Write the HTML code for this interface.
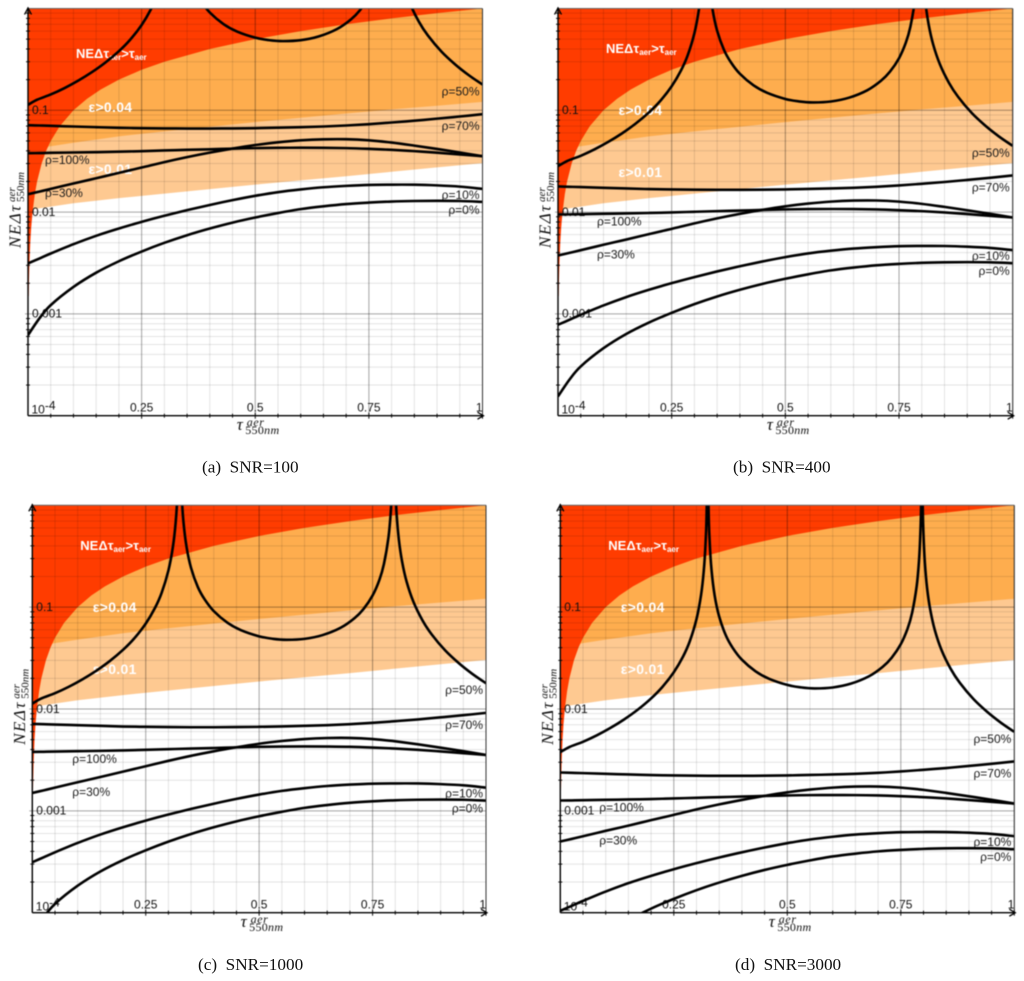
<!DOCTYPE html>
<html lang="en">
<head>
<meta charset="utf-8">
<title>Aerosol optical depth noise for four SNR values</title>
<style>
  html, body { margin: 0; padding: 0; background: #fff; }
  body { width: 1024px; height: 981px; overflow: hidden; }
  svg { display: block; }
  #charts { filter: blur(0.4px); }
  .tick { font: 12px "Liberation Sans", sans-serif; fill: #111; }
  .rho { font: 12px "Liberation Sans", sans-serif; fill: #1a1a1a; }
  .note { font: bold 14px "Liberation Sans", sans-serif; fill: #fff; letter-spacing: .3px; }
  .note-small { font: bold 13px "Liberation Sans", sans-serif; fill: #fff; }
  .math { font-family: "Liberation Serif", serif; font-style: italic; fill: #111; }
  .caption { font: 17.2px "Liberation Serif", serif; fill: #111; white-space: pre; }
</style>
</head>
<body>
<svg id="figure" width="1024" height="981" viewBox="0 0 1024 981" xmlns="http://www.w3.org/2000/svg">
  <rect width="1024" height="981" fill="#fff"/>
  <g id="charts"></g>
  <text class="caption" x="202" y="472.5">(a)  SNR=100</text>
  <text class="caption" x="733" y="472.5">(b)  SNR=400</text>
  <text class="caption" x="198" y="970">(c)  SNR=1000</text>
  <text class="caption" x="735" y="970">(d)  SNR=3000</text>
</svg>
<script>
// ---------- data ----------
const snrValues = [100, 400, 1000, 3000];
const panelLetters = ['a', 'b', 'c', 'd'];

// Curves are given as noise at the reference SNR (panel a); other panels scale by SNR.
const referenceSnr = 100;
const rhoTau = [0, .025, .05, .1, .15, .2, .25, .3, .35, .4, .45, .5, .55, .6, .65, .7, .75, .8, .85, .9, .95, 1];
const rho0 = [6.18e-4, 9.02e-4, 1.22e-3, 1.84e-3, 2.54e-3, 3.29e-3, 4.10e-3, 4.99e-3, 5.93e-3, 6.90e-3, 7.89e-3, 8.85e-3, 9.79e-3, 1.07e-2, 1.14e-2, 1.20e-2, 1.24e-2, 1.27e-2, 1.285e-2, 1.29e-2, 1.285e-2, 1.26e-2];
const rho10 = [3.13e-3, 3.50e-3, 3.92e-3, 4.84e-3, 5.85e-3, 6.90e-3, 8.02e-3, 9.20e-3, 1.045e-2, 1.175e-2, 1.31e-2, 1.445e-2, 1.57e-2, 1.67e-2, 1.754e-2, 1.81e-2, 1.85e-2, 1.86e-2, 1.858e-2, 1.83e-2, 1.78e-2, 1.69e-2];
const rho30 = [1.50e-2, 1.59e-2, 1.69e-2, 1.91e-2, 2.15e-2, 2.43e-2, 2.74e-2, 3.10e-2, 3.47e-2, 3.84e-2, 4.21e-2, 4.56e-2, 4.85e-2, 5.07e-2, 5.19e-2, 5.20e-2, 5.07e-2, 4.82e-2, 4.50e-2, 4.17e-2, 3.85e-2, 3.54e-2];
const rho70 = [7.14e-2, 7.09e-2, 7.04e-2, 6.93e-2, 6.83e-2, 6.73e-2, 6.68e-2, 6.64e-2, 6.62e-2, 6.62e-2, 6.64e-2, 6.68e-2, 6.75e-2, 6.83e-2, 6.93e-2, 7.09e-2, 7.31e-2, 7.59e-2, 7.90e-2, 8.28e-2, 8.69e-2, 9.16e-2];
const rho100 = [3.79e-2, 3.80e-2, 3.82e-2, 3.85e-2, 3.88e-2, 3.92e-2, 3.97e-2, 4.03e-2, 4.09e-2, 4.14e-2, 4.20e-2, 4.25e-2, 4.28e-2, 4.29e-2, 4.28e-2, 4.25e-2, 4.18e-2, 4.09e-2, 3.97e-2, 3.83e-2, 3.68e-2, 3.54e-2];

// rho = 50% has two sharp resonances and so has its own sample positions.
const rho50Tau = [0, .02, .05, .08, .11, .14, .17, .2, .225, .25, .27, .285, .3, .31, .316, .32, .3225, .3245, .3265, .329, .333, .34, .35, .365, .38, .4, .43, .46, .5, .53, .56, .6, .64, .68, .71, .73, .75, .765, .775, .785, .79, .793, .795, .7965, .798, .8, .803, .808, .815, .825, .84, .86, .88, .91, .94, .97, 1];
const rho50 = [.113, .127, .143, .165, .195, .236, .294, .381, .495, .689, .975, 1.38, 2.29, 3.94, 6.8, 12.9, 29.2, 300, 29.5, 13.2, 7.02, 3.9, 2.42, 1.57, 1.19, .914, .704, .594, .517, .489, .478, .488, .532, .629, .778, .958, 1.30, 1.85, 2.65, 4.83, 8.45, 15.6, 36, 300, 36, 15.4, 8.2, 4.58, 2.81, 1.78, 1.13, .742, .542, .376, .282, .221, .179];

// Shaded regions (independent of SNR)
const bandTau = [0, .1, .2, .3, .4, .5, .6, .7, .8, .9, 1];
const epsilon01Edge = [.0105, .0122, .0137, .0152, .0168, .0186, .0205, .0225, .0249, .0275, .0303];
const epsilon04Edge = [.041, .048, .0555, .062, .069, .0765, .0845, .093, .102, .111, .121];
const noiseEdgeTau = [.0015, .002, .003, .005, .007, .01, .015, .02, .03, .04, .05, .07, .1, .13, .16, .2, .25, .3, .4, .5, .6, .7, .8, .9, 1];
const noiseEdgeValue = [.0015, .002, .003, .005, .007, .01, .015, .02, .03, .04, .05, .07, .1, .13, .16, .2, .25, .3, .4, .5, .6, .7, .8, .9, 1];

// Axis ticks
const xMajorTicks = [.25, .5, .75, 1];
const xMajorLabels = ['0.25', '0.5', '0.75', '1'];
const xMinorTicks = [.05, .1, .15, .2, .3, .35, .4, .45, .55, .6, .65, .7, .8, .85, .9, .95];
const yMajorTicks = [.1, .01, .001];
const yMajorLabels = ['0.1', '0.01', '0.001'];
const yDecades = [.1, .01, .001, .0001];
const yMinorFactors = [2, 3, 4, 5, 6, 7, 8, 9];

// ---------- layout (not data) ----------
const panelBoxes = [
  { left: 28, right: 482.5, top: 8.5, bottom: 415.7, rhoInset: 17, noteY: -3, titleY: 5 },
  { left: 558, right: 1012.7, top: 8.5, bottom: 415.7, rhoInset: 39, noteY: 0, titleY: 0 },
  { left: 32.3, right: 486, top: 505.3, bottom: 912.7, rhoInset: 40, noteY: 0, titleY: 0 },
  { left: 560.3, right: 1014.3, top: 505.3, bottom: 912.7, rhoInset: 39, noteY: 0, titleY: 0 }
];

const NS = 'http://www.w3.org/2000/svg';
const root = document.getElementById('charts');

function make(tag, parent, attrs, text) {
  const el = document.createElementNS(NS, tag);
  for (const k in attrs) el.setAttribute(k, attrs[k]);
  if (text !== undefined) el.textContent = text;
  parent.appendChild(el);
  return el;
}

function xScale(box, tau) {
  return box.left + (box.right - box.left) * tau;
}
function yScale(box, value) {
  return box.top + (box.bottom - box.top) * (-Math.log10(value)) / 4;
}

function smoothPath(points) {
  let d = 'M' + points[0][0].toFixed(2) + ' ' + points[0][1].toFixed(2);
  for (let i = 0; i < points.length - 1; i++) {
    const p0 = points[Math.max(0, i - 1)];
    const p1 = points[i];
    const p2 = points[i + 1];
    const p3 = points[Math.min(points.length - 1, i + 2)];
    const c1x = p1[0] + (p2[0] - p0[0]) / 6;
    const c1y = p1[1] + (p2[1] - p0[1]) / 6;
    const c2x = p2[0] - (p3[0] - p1[0]) / 6;
    const c2y = p2[1] - (p3[1] - p1[1]) / 6;
    d += 'C' + c1x.toFixed(2) + ' ' + c1y.toFixed(2) + ' ' + c2x.toFixed(2) + ' ' + c2y.toFixed(2) + ' ' + p2[0].toFixed(2) + ' ' + p2[1].toFixed(2);
  }
  return d;
}

function regionPath(box, taus, values) {
  let d = 'M' + xScale(box, taus[0]) + ' ' + yScale(box, values[0]);
  for (let i = 1; i < taus.length; i++) {
    d += 'L' + xScale(box, taus[i]).toFixed(2) + ' ' + yScale(box, values[i]).toFixed(2);
  }
  d += 'L' + box.right + ' ' + box.top + 'L' + box.left + ' ' + box.top;
  d += 'L' + box.left + ' ' + yScale(box, values[0]) + 'Z';
  return d;
}

const rhoSeries = [
  { key: '0', tau: rhoTau, values: rho0, text: '\u03C1=0%', offset: 8, side: 'right' },
  { key: '10', tau: rhoTau, values: rho10, text: '\u03C1=10%', offset: 6, side: 'right' },
  { key: '30', tau: rhoTau, values: rho30, text: '\u03C1=30%', offset: -1, side: 'left' },
  { key: '50', tau: rho50Tau, values: rho50, text: '\u03C1=50%', offset: 7, side: 'right' },
  { key: '70', tau: rhoTau, values: rho70, text: '\u03C1=70%', offset: 12, side: 'right' },
  { key: '100', tau: rhoTau, values: rho100, text: '\u03C1=100%', offset: 7, side: 'left' }
];

panelBoxes.forEach(function (box, index) {
  const letter = panelLetters[index];
  const scale = referenceSnr / snrValues[index];

  const panel = make('g', root, {});
  
  

  const clip = make('clipPath', panel, { id: 'plot-clip-' + letter });
  
  
  const clipRect = make('rect', clip, { x: box.left, y: box.top, width: box.right - box.left, height: box.bottom - box.top });
  
  

  const regions = make('g', panel, { 'clip-path': 'url(#plot-clip-' + letter + ')' });
  
  

  const light = make('path', regions, { d: regionPath(box, bandTau, epsilon01Edge), fill: '#fec991' });
  
  

  const orange = make('path', regions, { d: regionPath(box, bandTau, epsilon04Edge), fill: '#fead4e' });
  
  

  const red = make('path', regions, { d: regionPath(box, noiseEdgeTau, noiseEdgeValue), fill: '#ff3c00' });
  
  

  const grid = make('g', panel, {});
  
  

  xMinorTicks.forEach(function (tau) {
    const x = xScale(box, tau);
    const line = make('line', grid, { x1: x, x2: x, y1: box.top, y2: box.bottom, stroke: 'rgba(0,0,0,.11)', 'stroke-width': 1 });
    
    
    const tick = make('line', grid, { x1: x, x2: x, y1: box.bottom - 2, y2: box.bottom + 2, stroke: '#111', 'stroke-width': 1 });
    
    
  });

  xMajorTicks.forEach(function (tau, i) {
    const x = xScale(box, tau);
    const line = make('line', grid, { x1: x, x2: x, y1: box.top, y2: box.bottom, stroke: 'rgba(0,0,0,.36)', 'stroke-width': 1 });
    
    
    const tick = make('line', grid, { x1: x, x2: x, y1: box.bottom - 3, y2: box.bottom + 3, stroke: '#111', 'stroke-width': 1 });
    
    
    const label = make('text', panel, {
      x: tau === 1 ? box.right : x,
      y: box.bottom - 4,
      'text-anchor': tau === 1 ? 'end' : 'middle',
      class: 'tick'
    }, xMajorLabels[i]);
    
    
  });

  yDecades.forEach(function (decade) {
    yMinorFactors.forEach(function (factor) {
      const y = yScale(box, decade * factor);
      const line = make('line', grid, { x1: box.left, x2: box.right, y1: y, y2: y, stroke: 'rgba(0,0,0,.11)', 'stroke-width': 1 });
      
      
      const tick = make('line', grid, { x1: box.left - 2, x2: box.left + 2, y1: y, y2: y, stroke: '#111', 'stroke-width': 1 });
      
      
    });
  });

  yMajorTicks.forEach(function (value, i) {
    const y = yScale(box, value);
    const line = make('line', grid, { x1: box.left - 3, x2: box.right, y1: y, y2: y, stroke: 'rgba(0,0,0,.36)', 'stroke-width': 1 });
    
    
    const label = make('text', panel, { x: box.left + 4, y: y + 3.8, class: 'tick' }, yMajorLabels[i]);
    
    
  });

  const bottomLabel = make('text', panel, { x: box.left + 3.5, y: box.bottom - 2, class: 'tick' }, '10');
  
  
  const bottomExp = make('tspan', bottomLabel, { dy: -4 }, '-4');
  
  

  // White region notes
  const title = make('text', panel, { x: box.left + 48, y: box.top + 44.5 + box.titleY, class: 'note-small' }, 'NE\u0394\u03C4');
  
  
  const titleSub1 = make('tspan', title, { dy: 2, 'font-size': 8 }, 'aer');
  
  
  const titleMid = make('tspan', title, { dy: -2 }, '>\u03C4');
  
  
  const titleSub2 = make('tspan', title, { dy: 2, 'font-size': 8 }, 'aer');
  
  

  const note04 = make('text', panel, { x: box.left + 60.5, y: box.top + 106.5 + box.noteY, class: 'note' }, '\u03B5>0.04');
  
  
  const note01 = make('text', panel, { x: box.left + 60.5, y: box.top + 168.5 + box.noteY, class: 'note' }, '\u03B5>0.01');
  
  

  // Rho labels sit next to the ends of their curves
  rhoSeries.forEach(function (series) {
    const last = series.values.length - 1;
    const anchorValue = series.side === 'right' ? series.values[last] : series.values[0];
    const y = yScale(box, anchorValue * scale) + series.offset + 4;
    const label = make('text', panel, {
      x: series.side === 'right' ? box.right - 3 : box.left + box.rhoInset,
      y: y,
      'text-anchor': series.side === 'right' ? 'end' : 'start',
      class: 'rho'
    }, series.text);
    
    
  });

  // Series
  const curves = make('g', panel, { 'clip-path': 'url(#plot-clip-' + letter + ')' });
  
  
  rhoSeries.forEach(function (series) {
    const points = series.tau.map(function (tau, i) {
      return [xScale(box, tau), yScale(box, series.values[i] * scale)];
    });
    const curve = make('path', curves, { d: smoothPath(points), fill: 'none', stroke: '#000', 'stroke-width': 2.6, 'stroke-linejoin': 'round' });
    
    
  });

  // Frame and axes
  const topEdge = make('line', panel, { x1: box.left, x2: box.right, y1: box.top, y2: box.top, stroke: '#666', 'stroke-width': 1 });
  
  
  const rightEdge = make('line', panel, { x1: box.right, x2: box.right, y1: box.top, y2: box.bottom, stroke: '#333', 'stroke-width': 1 });
  
  
  const xAxis = make('line', panel, { x1: box.left, x2: box.right + 1, y1: box.bottom, y2: box.bottom, stroke: '#000', 'stroke-width': 1.4 });
  
  
  const yAxis = make('line', panel, { x1: box.left, x2: box.left, y1: box.top - 1, y2: box.bottom, stroke: '#000', 'stroke-width': 1.4 });
  
  
  const xArrow = make('path', panel, {
    d: 'M' + (box.right - 5) + ' ' + (box.bottom - 3.5) + 'L' + (box.right + 1) + ' ' + box.bottom + 'L' + (box.right - 5) + ' ' + (box.bottom + 3.5),
    fill: 'none', stroke: '#000', 'stroke-width': 1.3
  });
  
  
  const yArrow = make('path', panel, {
    d: 'M' + (box.left - 3.5) + ' ' + (box.top + 6) + 'L' + box.left + ' ' + (box.top - 0.5) + 'L' + (box.left + 3.5) + ' ' + (box.top + 6),
    fill: 'none', stroke: '#000', 'stroke-width': 1.3
  });
  
  

  // X axis title
  const midX = (box.left + box.right) / 2;
  const xTitle = make('g', panel, {});
  
  
  const xTau = make('text', xTitle, { x: midX - 18.5, y: box.bottom + 14.5, class: 'math', 'font-size': 17 }, '\u03C4');
  
  
  const xSup = make('text', xTitle, { x: midX - 8.5, y: box.bottom + 10.5, class: 'math', 'font-size': 12, 'letter-spacing': .6 }, 'aer');
  
  
  const xSub = make('text', xTitle, { x: midX - 10, y: box.bottom + 18.5, class: 'math', 'font-size': 12, 'letter-spacing': .3 });
  
  
  const xSubDigits = make('tspan', xSub, { 'font-style': 'normal' }, '550');
  
  
  const xSubUnit = make('tspan', xSub, {}, 'nm');
  
  

  // Y axis title
  const yBaseX = box.left - 7.5;
  const yBaseY = box.top + 239.5;
  const yTitle = make('g', panel, { transform: 'translate(' + yBaseX + ' ' + yBaseY + ') rotate(-90)' });
  
  
  const yMain = make('text', yTitle, { x: 0, y: 0, class: 'math', 'font-size': 17, 'letter-spacing': 1.5 }, 'NE\u0394\u03C4');
  
  
  const ySup = make('text', yTitle, { x: 46, y: -5.5, class: 'math', 'font-size': 11 }, 'aer');
  
  
  const ySub = make('text', yTitle, { x: 46, y: 3.5, class: 'math', 'font-size': 11 });
  
  
  const ySubDigits = make('tspan', ySub, { 'font-style': 'normal' }, '550');
  
  
  const ySubUnit = make('tspan', ySub, {}, 'nm');
  
  
});
</script>
</body>
</html>
